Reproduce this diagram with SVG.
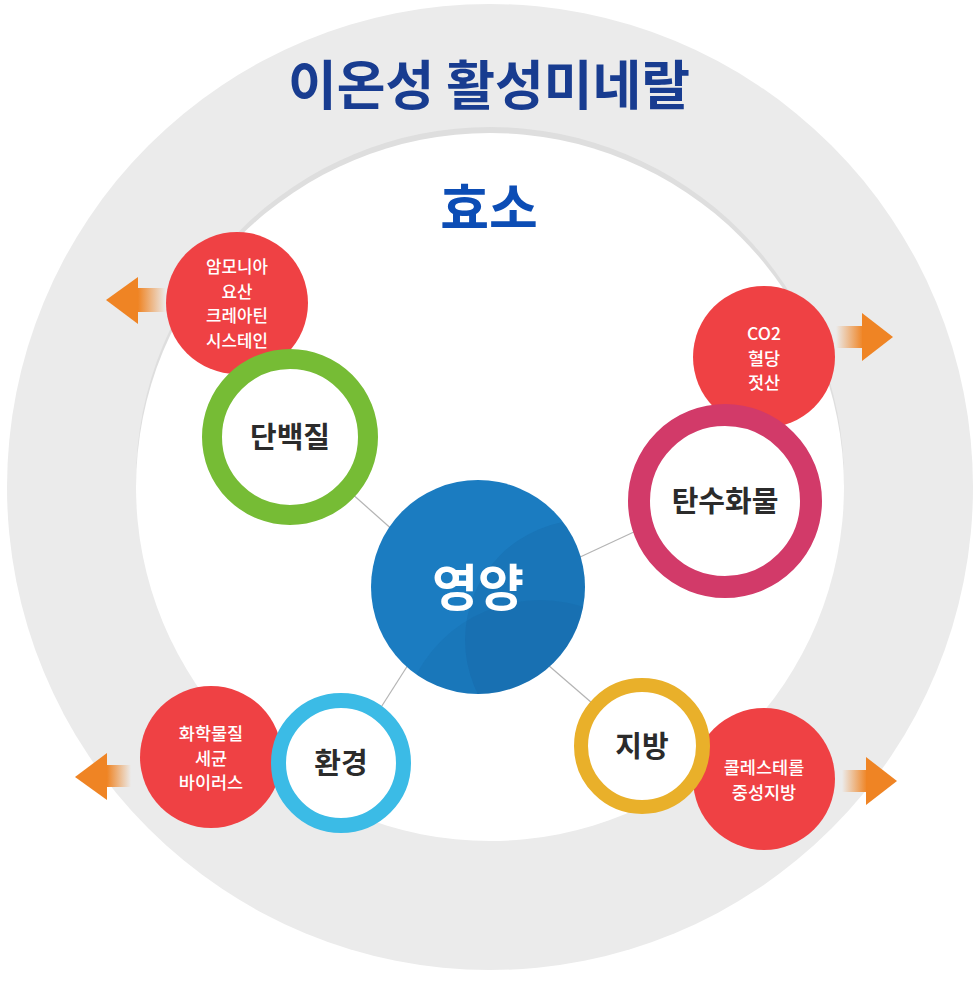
<svg xmlns="http://www.w3.org/2000/svg" width="980" height="1000" viewBox="0 0 980 1000">
<style>
.ko{font-family:"Noto Sans CJK KR","Noto Sans",sans-serif;text-anchor:middle}
.ring{fill:#fff}
.lbl{font-size:29px;font-weight:bold;fill:#2b2b2b}
.red{fill:#ef4144}
.rt{font-size:17.5px;font-weight:500;fill:#fff}
.rt4{font-size:16.8px}
.conn{stroke:#b4b4b4;stroke-width:1.2;fill:none}
.head{fill:#ef8424}
</style>
<defs>
<linearGradient id="gL" x1="0" y1="0" x2="1" y2="0">
<stop offset="0" stop-color="#ef8424"/><stop offset="1" stop-color="#ef8424" stop-opacity="0"/>
</linearGradient>
<linearGradient id="gR" x1="1" y1="0" x2="0" y2="0">
<stop offset="0" stop-color="#ef8424"/><stop offset="1" stop-color="#ef8424" stop-opacity="0"/>
</linearGradient>
<clipPath id="cc"><circle cx="478" cy="587" r="107"/></clipPath>
</defs>
<rect width="980" height="1000" fill="#fff"/>
<circle cx="490" cy="487" r="483" fill="#ebebeb"/>
<circle cx="490" cy="481" r="354" fill="#dedede"/>
<circle cx="490" cy="487" r="354" fill="#fff"/>
<text class="ko" x="489" y="105" font-size="53" font-weight="bold" fill="#183c90">이온성 활성미네랄</text>
<text class="ko" x="489" y="228" font-size="53" font-weight="bold" fill="#0c4db5">효소</text>
<g id="arrows">
<rect x="138" y="288" width="28" height="24" fill="url(#gL)"/><polygon class="head" points="106,300 138,277 138,324"/>
<rect x="836" y="326" width="27" height="22" fill="url(#gR)"/><polygon class="head" points="893,337 862,313 862,361"/>
<rect x="107" y="765" width="24" height="22" fill="url(#gL)"/><polygon class="head" points="75,777 107,753 107,800"/>
<rect x="842" y="770" width="25" height="22" fill="url(#gR)"/><polygon class="head" points="897,781 866,757 866,805"/>
</g>
<g id="connectors">
<line class="conn" x1="350" y1="492" x2="395" y2="532"/>
<line class="conn" x1="578" y1="558" x2="636" y2="531"/>
<line class="conn" x1="548" y1="665" x2="592" y2="703"/>
<line class="conn" x1="408" y1="665" x2="378" y2="712"/>
</g>
<g id="n-amino"><circle class="red" cx="237" cy="303" r="71"/>
<text class="ko rt rt4" x="237" y="273">암모니아</text><text class="ko rt rt4" x="237" y="297.5">요산</text><text class="ko rt rt4" x="237" y="322">크레아틴</text><text class="ko rt rt4" x="237" y="346.5">시스테인</text></g>
<g id="n-co2"><circle class="red" cx="764" cy="357" r="71"/>
<text class="ko rt" x="764" y="340">CO2</text><text class="ko rt" x="764" y="364.5">혈당</text><text class="ko rt" x="764" y="389">젓산</text></g>
<g id="n-chem"><circle class="red" cx="211" cy="757" r="71"/>
<text class="ko rt" x="211" y="740">화학물질</text><text class="ko rt" x="211" y="764.5">세균</text><text class="ko rt" x="211" y="789">바이러스</text></g>
<g id="n-chol"><circle class="red" cx="764" cy="779" r="71"/>
<text class="ko rt" x="764" y="774">콜레스테롤</text><text class="ko rt" x="764" y="799">중성지방</text></g>
<g id="n-protein"><circle class="ring" cx="290" cy="437" r="78" stroke="#76bc35" stroke-width="20"/>
<text class="ko lbl" x="290" y="448">단백질</text></g>
<g id="n-carb"><circle class="ring" cx="725" cy="501" r="86" stroke="#d23a69" stroke-width="22"/>
<text class="ko lbl" x="725" y="512">탄수화물</text></g>
<g id="n-fat"><circle class="ring" cx="642" cy="746" r="61" stroke="#e9b02a" stroke-width="14"/>
<text class="ko lbl" x="642" y="757">지방</text></g>
<g id="n-env"><circle class="ring" cx="341" cy="763" r="62.5" stroke="#3bbbe6" stroke-width="15"/>
<text class="ko lbl" x="341" y="774">환경</text></g>
<g id="n-center">
<circle cx="478" cy="587" r="107" fill="#1b7cc1"/>
<g clip-path="url(#cc)">
<circle cx="585" cy="640" r="120" fill="#0a3a70" fill-opacity="0.1"/>
<circle cx="540" cy="740" r="140" fill="#0a3a70" fill-opacity="0.08"/>
</g>
<text class="ko" x="478" y="606" font-size="50" font-weight="bold" fill="#fff">영양</text>
</g>
</svg>
